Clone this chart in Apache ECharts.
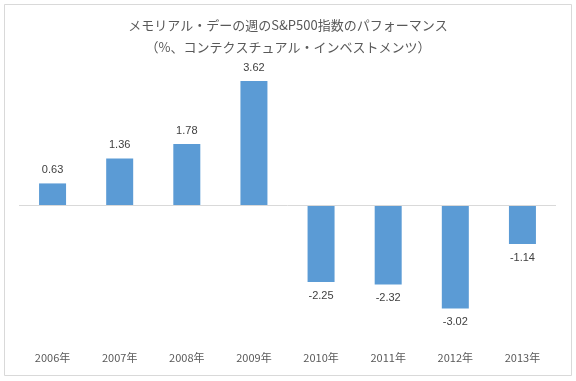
<!DOCTYPE html>
<html><head><meta charset="utf-8">
<script src="https://cdn.jsdelivr.net/npm/echarts@6/dist/echarts.min.js"></script>
<style>html,body{margin:0;padding:0;background:#fff}#c{width:576px;height:381px}</style>
</head><body><div id="c"></div>
<script>
const categories = ['2006年','2007年','2008年','2009年','2010年','2011年','2012年','2013年'];
const values = [0.63, 1.36, 1.78, 3.62, -2.25, -2.32, -3.02, -1.14];
const titleLines = ['メモリアル・デーの週のS&P500指数のパフォーマンス', '（%、コンテクスチュアル・インベストメンツ）'];

const chart = echarts.init(document.getElementById('c'), null, {renderer:'canvas'});
chart.setOption({
  animation: false,
  backgroundColor: '#fff',
  graphic: [{type:'rect', shape:{x:4.5,y:4.5,width:567,height:371}, style:{fill:'none', stroke:'#d9d9d9', lineWidth:1}, silent:true}],
  title: {
    text: titleLines.join('\n'), left: 'center', top: 9,
    textStyle: {fontFamily:'Noto Sans CJK JP', fontSize:13, fontWeight:'normal', color:'#595959', lineHeight:22}
  },
  grid: {left:19, right:20, top:68, bottom:39},
  xAxis: {
    type:'category', data: categories,
    axisLine:{show:false, onZero:false}, axisTick:{show:false},
    axisLabel:{color:'#595959', fontSize:11, fontFamily:'Noto Sans CJK JP', margin:10}
  },
  yAxis: {type:'value', min:-4, max:4, interval:4, show:false, splitLine:{show:false}},
  series: [{
    type:'bar', data: values.map(v => ({value:v, label:{position: v >= 0 ? 'top' : 'bottom'}})),
    barWidth: 27,
    itemStyle:{color:'#5b9bd5'},
    label:{show:true, distance:8, color:'#404040', fontSize:11, fontFamily:'Liberation Sans', formatter: p => p.value.toFixed(2)},
    markLine:{silent:true, symbol:'none', label:{show:false}, lineStyle:{color:'#d9d9d9', type:'solid', width:1}, data:[{yAxis:0}]}
  }]
});
</script></body></html>
